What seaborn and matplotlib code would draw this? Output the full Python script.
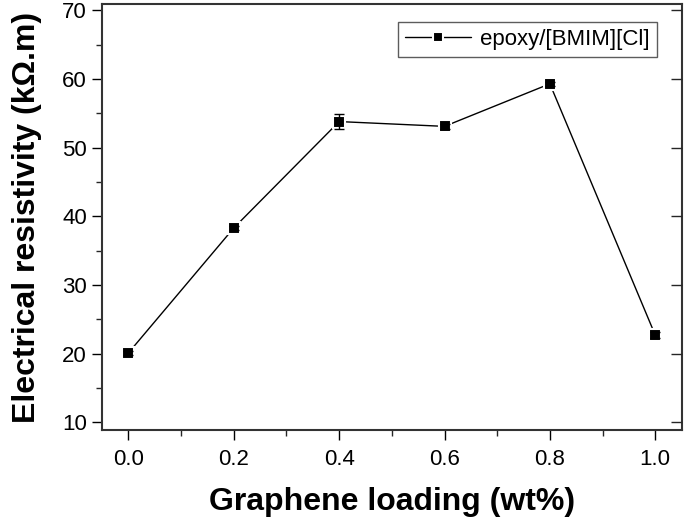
import numpy as np
import pandas as pd
import matplotlib
matplotlib.use("Agg")
import matplotlib.pyplot as plt
from matplotlib.ticker import MultipleLocator, FormatStrFormatter
import seaborn as sns

# Datos
loading = [0.0, 0.2, 0.4, 0.6, 0.8, 1.0]
resistivity = [20.1, 38.3, 53.8, 53.1, 59.3, 22.7]
error = [0.3, 0.3, 1.1, 0.4, 0.3, 0.4]
series_label = "epoxy/[BMIM][Cl]"

sns.set_style("ticks")
plt.rcParams['font.family'] = ['Liberation Sans', 'DejaVu Sans']

df = pd.DataFrame({"loading": loading, "resistivity": resistivity, "serie": series_label})

fig = plt.figure(figsize=(6.85, 5.21), dpi=100)
ax = fig.add_axes([0.149, 0.175, 0.846, 0.817])

# línea con marcadores (borde blanco para dejar un pequeño hueco como el original)
sns.lineplot(data=df, x="loading", y="resistivity", hue="serie", palette=["black"],
             marker='s', markersize=9, markeredgecolor='white', markeredgewidth=1.5,
             linewidth=1, ax=ax, zorder=3)
ax.errorbar(loading, resistivity, yerr=error, fmt='none', ecolor='black',
            elinewidth=1, capsize=3.5, capthick=1, zorder=4)

ax.set_xlim(-0.05, 1.05)
ax.set_ylim(8.9, 70.9)
ax.xaxis.set_major_locator(MultipleLocator(0.2))
ax.xaxis.set_minor_locator(MultipleLocator(0.1))
ax.yaxis.set_major_locator(MultipleLocator(10))
ax.yaxis.set_minor_locator(MultipleLocator(5))
ax.xaxis.set_major_formatter(FormatStrFormatter('%.1f'))

ax.tick_params(which='major', direction='out', length=7, width=1, labelsize=16, colors='black')
ax.tick_params(which='minor', direction='out', length=4, width=1)
ax.tick_params(axis='x', which='major', pad=7)
ax.tick_params(axis='y', which='major', pad=4)
for s in ax.spines.values():
    s.set_linewidth(1.5)
    s.set_color('#333333')

# eje derecho con ticks hacia dentro
ax2 = ax.twinx()
ax2.set_ylim(ax.get_ylim())
ax2.yaxis.set_major_locator(MultipleLocator(10))
ax2.tick_params(axis='y', direction='in', length=8, width=1, labelright=False)
for s in ax2.spines.values():
    s.set_visible(False)

ax.set_xlabel("Graphene loading (wt%)", fontsize=23, fontweight='bold', labelpad=12, color='black')
ax.set_ylabel("Electrical resistivity (k\u03a9.m)", fontsize=23, fontweight='bold', labelpad=14, color='black')

leg = ax.legend(loc='upper right', bbox_to_anchor=(0.957, 0.957), fontsize=16,
                frameon=True, fancybox=False, handlelength=3.0, borderpad=0.3,
                handletextpad=0.4, borderaxespad=0)
for h in leg.legend_handles:
    h.set_markersize(7)
    h.set_markeredgecolor('white')
    h.set_markeredgewidth(1.5)
for t in leg.get_texts():
    t.set_color('black')
leg.get_frame().set_edgecolor('#333333')
leg.get_frame().set_linewidth(1.0)

fig.savefig("out.png", dpi=100)
